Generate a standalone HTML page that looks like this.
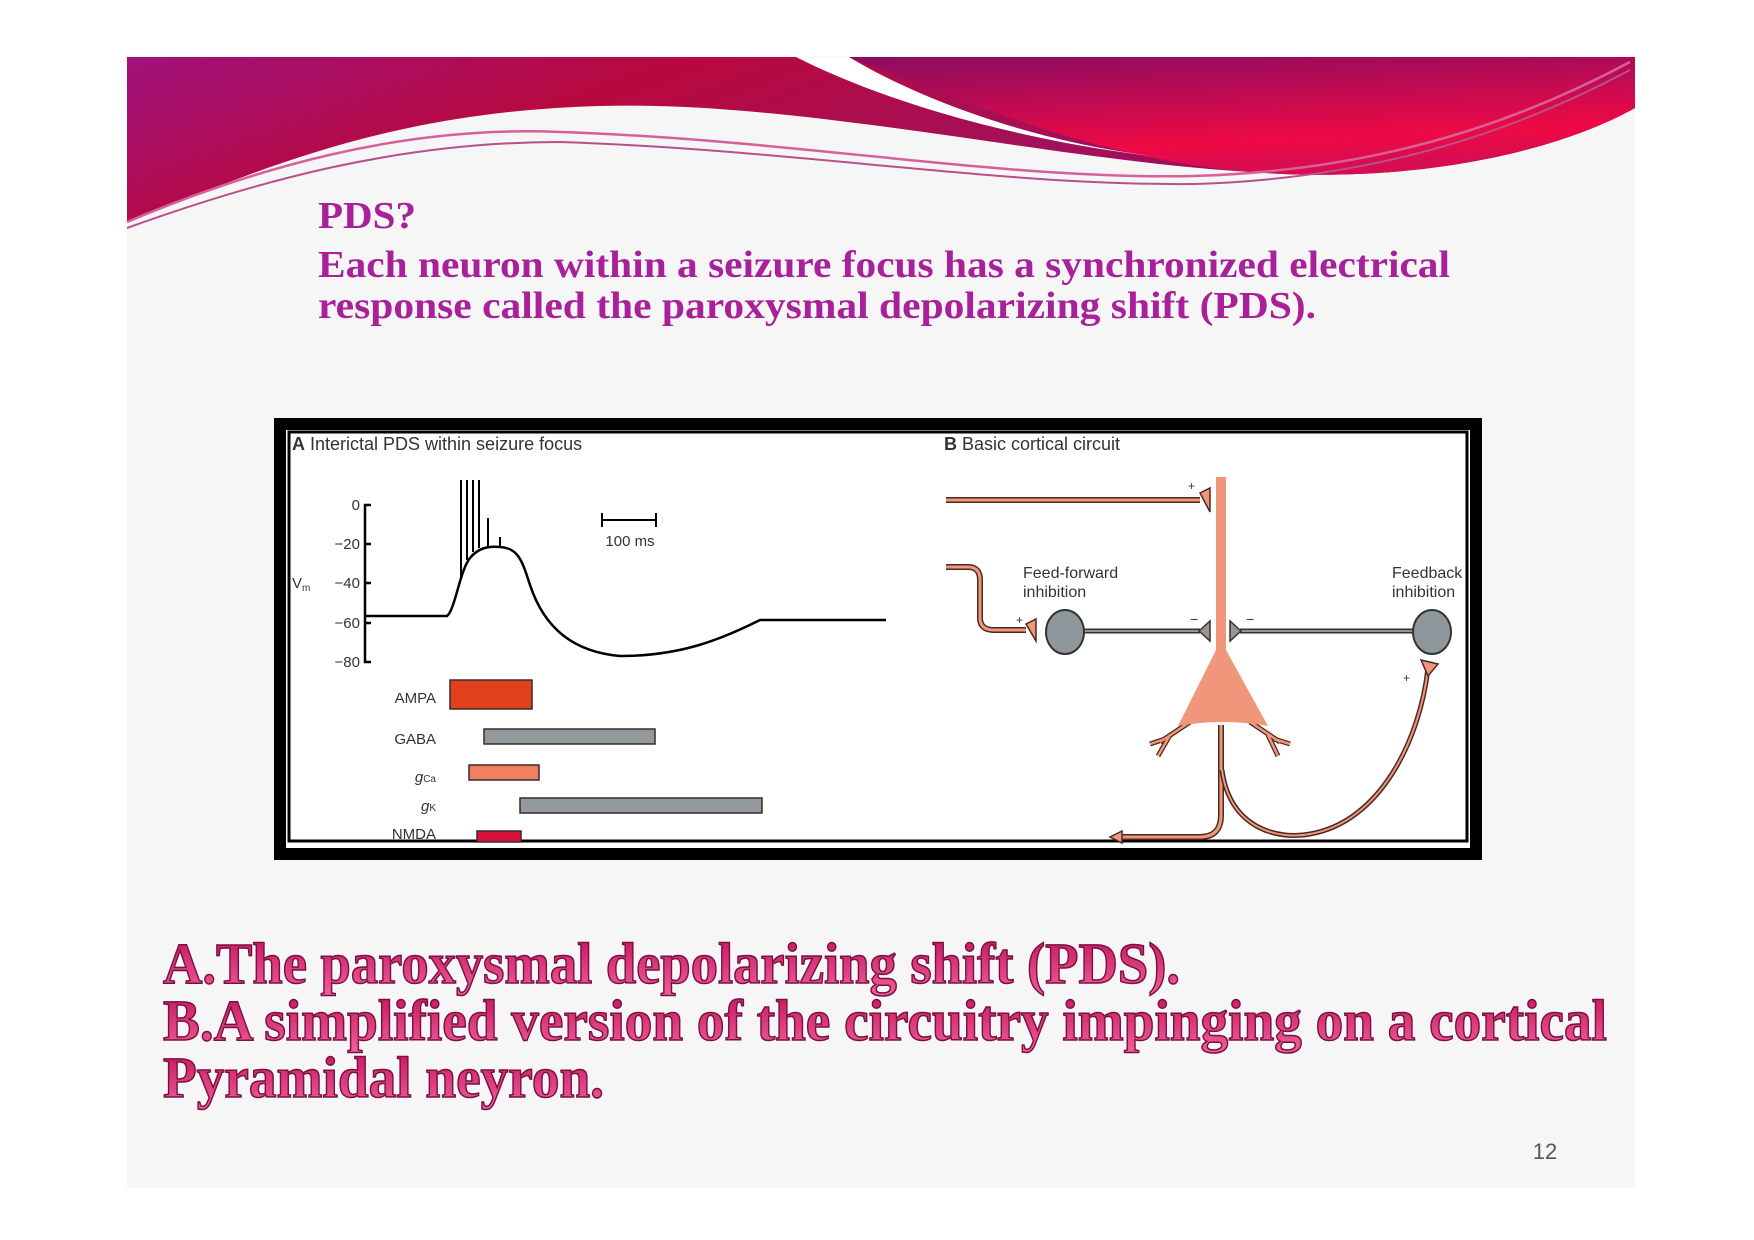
<!DOCTYPE html>
<html><head><meta charset="utf-8"><style>
html,body{margin:0;padding:0;background:#fff;}
svg{display:block;}
</style></head><body>
<svg width="1754" height="1240" viewBox="0 0 1754 1240" xmlns="http://www.w3.org/2000/svg">
<defs>
<linearGradient id="bg1" x1="0" y1="0" x2="1" y2="0.3">
<stop offset="0" stop-color="#a0127c"/><stop offset="0.35" stop-color="#b8093e"/><stop offset="0.7" stop-color="#a3105a"/><stop offset="1" stop-color="#9a0c5c"/></linearGradient>
<linearGradient id="bg2" x1="0" y1="0" x2="0.3" y2="1">
<stop offset="0" stop-color="#8a0c62"/><stop offset="0.8" stop-color="#ee0a44"/><stop offset="1" stop-color="#d80c50"/></linearGradient>
<linearGradient id="tg" x1="0" y1="0" x2="0" y2="1">
<stop offset="0" stop-color="#c0105a"/><stop offset="1" stop-color="#f0609a"/></linearGradient>
</defs>
<rect x="127" y="56" width="1508" height="1132" fill="#f6f6f6"/>
<!-- banner -->
<path d="M127,57 H1635 V108 C1560,150 1420,185 1250,172 C1050,160 800,100 600,106 C380,112 250,175 127,222 Z" fill="url(#bg1)"/>
<path d="M849,57 H1635 V108 C1560,150 1420,185 1250,172 C1100,160 960,100 849,57 Z" fill="url(#bg2)"/>
<path d="M796,57 L849,57 C920,100 1050,150 1194,160 C1060,150 900,110 796,57 Z" fill="#ffffff"/>
<path d="M127,222 C250,170 400,125 560,132 C800,140 1000,180 1194,176 C1400,170 1540,110 1630,62" fill="none" stroke="#d8609a" stroke-width="2.5"/>
<path d="M127,228 C260,180 400,142 560,142 C800,150 1000,186 1194,184 C1400,178 1540,118 1630,70" fill="none" stroke="#b8508a" stroke-width="2"/>
<!-- top text -->
<g font-family="Liberation Serif, serif" font-weight="bold" fill="#a8209a">
<text x="318" y="228" font-size="38" textLength="98" lengthAdjust="spacingAndGlyphs">PDS?</text>
<text x="318" y="277" font-size="38" textLength="1132" lengthAdjust="spacingAndGlyphs">Each neuron within a seizure focus has a synchronized electrical</text>
<text x="318" y="318" font-size="38" textLength="998" lengthAdjust="spacingAndGlyphs">response called the paroxysmal depolarizing shift (PDS).</text>
</g>
<!-- figure box -->
<rect x="274" y="418" width="1208" height="442" fill="#000"/>
<rect x="286" y="430" width="1184" height="418" fill="#fff"/>
<rect x="289" y="432" width="1178" height="409" fill="none" stroke="#000" stroke-width="3"/>
<g font-family="Liberation Sans, sans-serif" fill="#333" font-size="18">
<text x="292" y="450"><tspan font-weight="bold">A</tspan>  Interictal PDS within seizure focus</text>
<text x="944" y="450"><tspan font-weight="bold">B</tspan>  Basic cortical circuit</text>
</g>
<!-- axis -->
<g stroke="#000" stroke-width="2.5" fill="none">
<path d="M371,505 H365 V662 H371 M365,544 H371 M365,583 H371 M365,623 H371"/>
</g>
<g font-family="Liberation Sans, sans-serif" font-size="15" fill="#333" text-anchor="end">
<text x="360" y="510">0</text><text x="360" y="549">−20</text><text x="360" y="588">−40</text><text x="360" y="628">−60</text><text x="360" y="667">−80</text>
<text x="436" y="703">AMPA</text><text x="436" y="744">GABA</text>
<text x="436" y="782" font-style="italic">g<tspan font-size="10" font-style="normal">Ca</tspan></text>
<text x="436" y="811" font-style="italic">g<tspan font-size="10" font-style="normal">K</tspan></text>
<text x="436" y="839">NMDA</text>
</g>
<text x="292" y="588" font-family="Liberation Sans, sans-serif" font-size="15" fill="#333">V<tspan font-size="10" dy="3">m</tspan></text>
<!-- trace -->
<path d="M365,616 H447 C455,610 460,570 470,558 C478,548 488,546 500,547 C518,548 522,560 530,585 C545,630 575,652 620,656 C680,656 720,640 760,620 H886" fill="none" stroke="#000" stroke-width="2.5"/>
<g stroke="#000" stroke-width="2">
<path d="M461,480 V580 M467,480 V560 M473,480 V552 M479,480 V548 M488,518 V548 M500,537 V548"/>
<path d="M602,520 H656 M602,513 V527 M656,513 V527"/>
</g>
<text x="630" y="546" font-family="Liberation Sans, sans-serif" font-size="15" fill="#333" text-anchor="middle">100 ms</text>
<!-- bars -->
<g stroke="#3a2a2a" stroke-width="1.5">
<rect x="450" y="680" width="82" height="29" fill="#e0401e"/>
<rect x="484" y="729" width="171" height="15" fill="#939a9e"/>
<rect x="469" y="765" width="70" height="15" fill="#f28060"/>
<rect x="520" y="798" width="242" height="15" fill="#939a9e"/>
<rect x="477" y="831" width="44" height="11" fill="#d8113a"/>
</g>
<!-- panel B -->
<g stroke="#4a2a22" stroke-width="1.5">
<path d="M946,500 H1200" stroke="#4a2a22" stroke-width="6"/>
<path d="M946,500 H1200" stroke="#f0967a" stroke-width="3"/>
<path d="M946,567 H968 Q980,567 980,580 V618 Q980,630 994,630 H1026" fill="none" stroke="#4a2a22" stroke-width="6"/>
<path d="M946,567 H968 Q980,567 980,580 V618 Q980,630 994,630 H1026" fill="none" stroke="#f0967a" stroke-width="3"/>
<path d="M1026,624 L1036,619 V641 Z" fill="#f0967a"/>
<path d="M1200,493 L1210,488 V512 Z" fill="#f0967a"/>
<path d="M1080,631 H1200 M1240,631 H1415" stroke="#333" stroke-width="5"/>
<path d="M1080,631 H1200 M1240,631 H1415" stroke="#8e979c" stroke-width="2"/>
<path d="M1199,631 L1210,621 V641 Z M1241,631 L1230,621 V641 Z" fill="#8e979c"/>
<ellipse cx="1065" cy="632" rx="19" ry="22" fill="#8e979c" stroke="#333" stroke-width="2"/>
<ellipse cx="1432" cy="632" rx="19" ry="22" fill="#8e979c" stroke="#333" stroke-width="2"/>
<!-- axon down & feedback -->
<path d="M1221,725 V815 Q1221,837 1200,837 H1122" fill="none" stroke="#4a2a22" stroke-width="6"/>
<path d="M1221,725 V815 Q1221,837 1200,837 H1122" fill="none" stroke="#f0967a" stroke-width="3"/>
<path d="M1122,831 L1110,837 L1122,843 Z" fill="#f0967a"/>
<path d="M1222,770 C1230,830 1280,840 1310,834 C1380,822 1420,740 1428,668" fill="none" stroke="#4a2a22" stroke-width="5"/>
<path d="M1222,770 C1230,830 1280,840 1310,834 C1380,822 1420,740 1428,668" fill="none" stroke="#f0967a" stroke-width="2"/>
<path d="M1421,660 L1438,664 L1428,676 Z" fill="#f0967a"/>
<!-- pyramidal -->
<path d="M1190,722 L1160,742 M1170,735 L1158,756 M1165,739 L1150,744 M1250,722 L1280,742 M1268,735 L1278,756 M1274,739 L1290,744" stroke="#4a2a22" stroke-width="5" fill="none"/>
<path d="M1190,722 L1160,742 M1170,735 L1158,756 M1165,739 L1150,744 M1250,722 L1280,742 M1268,735 L1278,756 M1274,739 L1290,744" stroke="#f0967a" stroke-width="2.5" fill="none"/>
<path d="M1216,477 H1226 V650 L1268,726 Q1222,718 1178,726 L1216,650 Z" fill="#f0967a" stroke="none"/>
</g>
<g font-family="Liberation Sans, sans-serif" font-size="16" fill="#333">
<text x="1023" y="578">Feed-forward</text><text x="1023" y="597">inhibition</text>
<text x="1392" y="578">Feedback</text><text x="1392" y="597">inhibition</text>
<text x="1188" y="490" font-size="12">+</text><text x="1016" y="624" font-size="12">+</text>
<text x="1190" y="624" font-size="14">−</text><text x="1246" y="624" font-size="14">−</text>
<text x="1403" y="682" font-size="12">+</text>
</g>
<!-- bottom text -->
<g font-family="Liberation Serif, serif" font-weight="bold" font-size="58" fill="url(#tg)" stroke="#7a1040" stroke-width="1.5">
<text x="163" y="983" textLength="1017" lengthAdjust="spacingAndGlyphs">A.The paroxysmal depolarizing shift (PDS).</text>
<text x="163" y="1040" textLength="1444" lengthAdjust="spacingAndGlyphs">B.A simplified version of the circuitry impinging on a cortical</text>
<text x="163" y="1097" textLength="441" lengthAdjust="spacingAndGlyphs">Pyramidal neyron.</text>
</g>
<text x="1545" y="1159" font-family="Liberation Sans, sans-serif" font-size="22" fill="#555" text-anchor="middle">12</text>
</svg>
</body></html>
